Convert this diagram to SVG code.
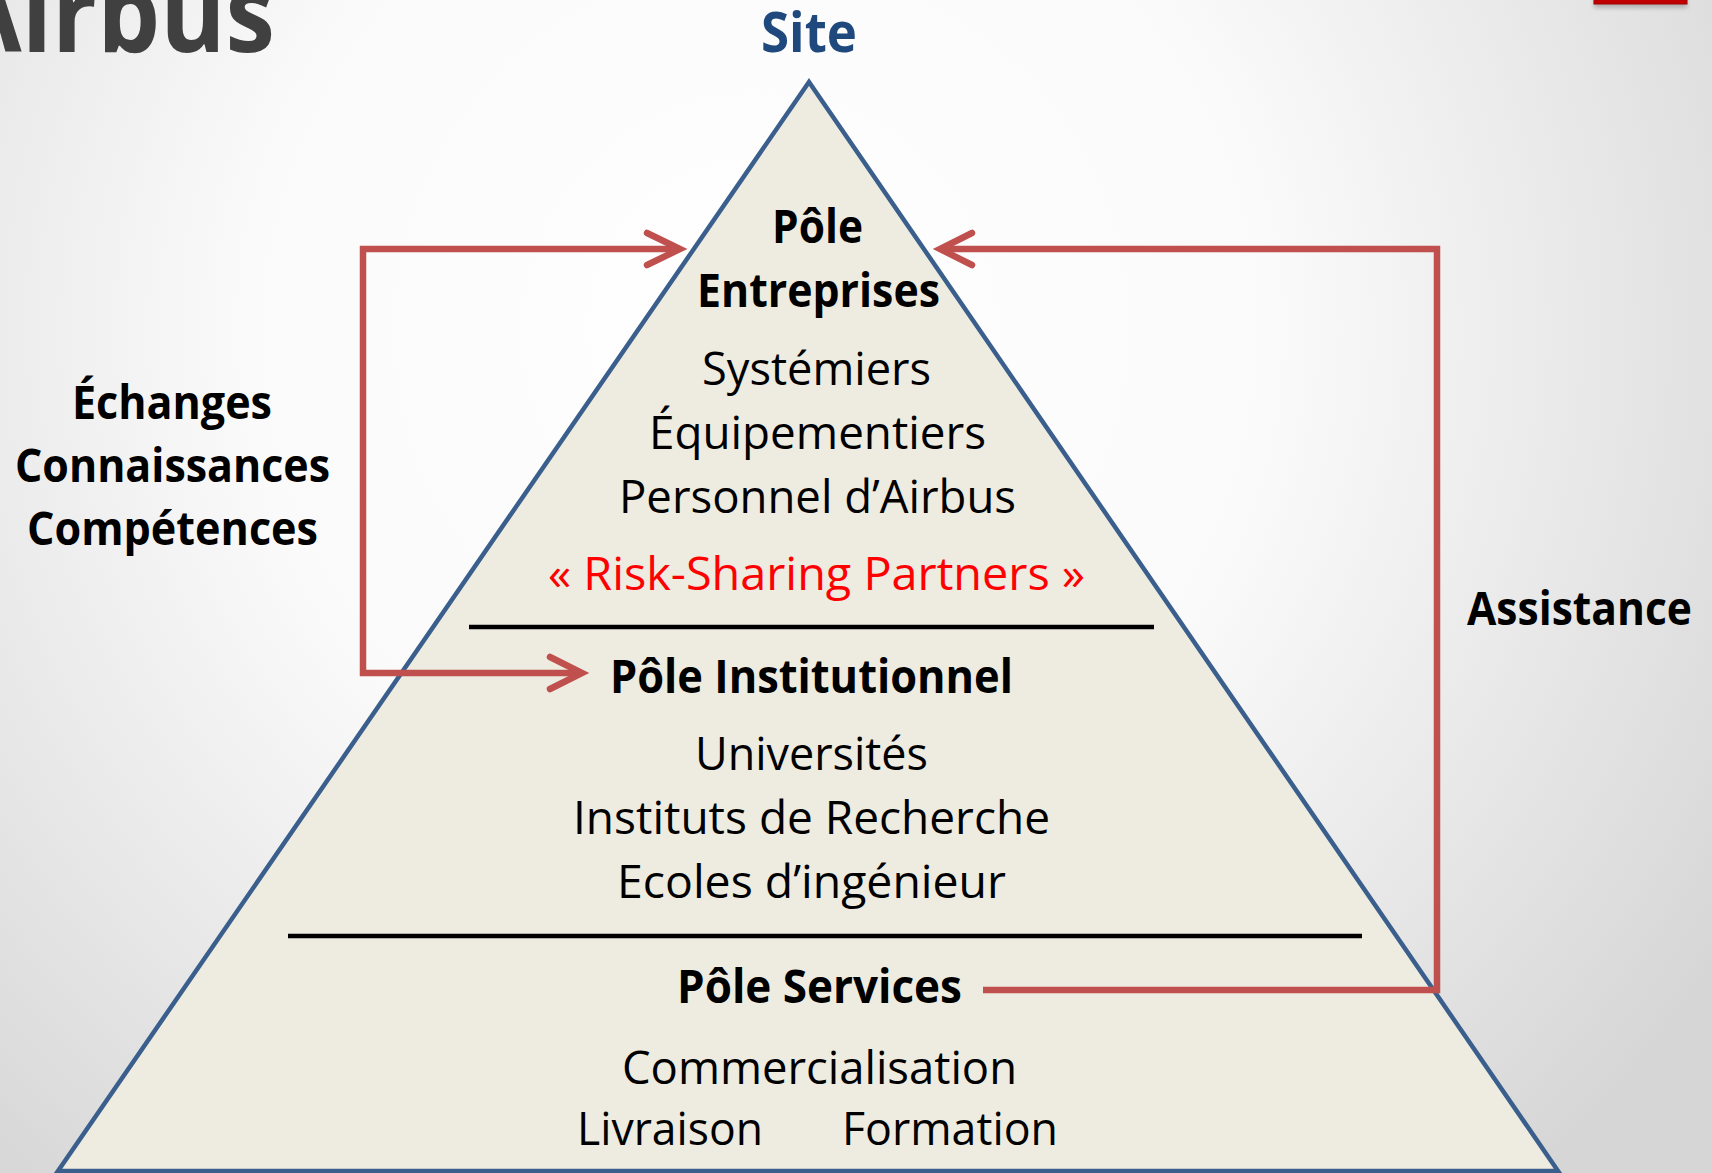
<svg xmlns="http://www.w3.org/2000/svg" width="1712" height="1173" viewBox="0 0 1712 1173">
  <defs>
    <radialGradient id="bg" gradientUnits="userSpaceOnUse" cx="760" cy="330" r="1150">
      <stop offset="0" stop-color="#ffffff"/>
      <stop offset="0.45" stop-color="#fafafa"/>
      <stop offset="1" stop-color="#d6d6d6"/>
    </radialGradient>
    <filter id="shadow" x="-20%" y="-50%" width="140%" height="300%">
      <feGaussianBlur stdDeviation="2"/>
    </filter>
  </defs>
  <style>
    text { font-family: "Open Sans", "Noto Sans", "Liberation Sans", sans-serif; fill: #000; }
    .b { font-weight: bold; font-size: 46px; }
    .r { font-size: 46px; }
    .mid { text-anchor: start; }
    .red { fill: #ff0000; }
    .conn { fill: none; stroke: #c0504d; stroke-width: 6.5; }
    .head { fill: none; stroke: #c0504d; stroke-width: 6.5; stroke-linecap: round; stroke-linejoin: miter; }
    .sep { stroke: #000; stroke-width: 4.5; }
  </style>

  <rect x="0" y="0" width="1712" height="1173" fill="url(#bg)"/>

  <!-- title (cut off) -->
  <text x="-47" y="52" font-size="110" font-weight="bold" style="fill:#404040" textLength="322" lengthAdjust="spacingAndGlyphs">Airbus</text>

  <!-- red tab top right -->
  <rect x="1594" y="-4" width="93" height="12" fill="#808080" opacity="0.5" filter="url(#shadow)"/>
  <rect x="1594" y="-6" width="93" height="10" fill="#c00000" stroke="#a00000" stroke-width="1"/>

  <!-- pyramid -->
  <g id="pyramid">
    <polygon points="809,82 1558,1171 58,1171" fill="#eeebe0" stroke="#3a5f8d" stroke-width="4.5" stroke-linejoin="miter"/>
    <line class="sep" x1="469" y1="627" x2="1154" y2="627"/>
    <line class="sep" x1="288" y1="936" x2="1362" y2="936"/>
  </g>

  <g id="site-label">
    <text x="761" y="52" font-size="56" font-weight="bold" style="fill:#1f497d" textLength="96" lengthAdjust="spacingAndGlyphs">Site</text>
  </g>

  <g id="pole-entreprises">
    <text class="b" x="772" y="243" textLength="91" lengthAdjust="spacingAndGlyphs">Pôle</text>
    <text class="b" x="697" y="307" textLength="243" lengthAdjust="spacingAndGlyphs">Entreprises</text>
    <text class="r" x="702" y="385" textLength="229" lengthAdjust="spacingAndGlyphs">Systémiers</text>
    <text class="r" x="649" y="449" textLength="337" lengthAdjust="spacingAndGlyphs">Équipementiers</text>
    <text class="r" x="619" y="513" textLength="397" lengthAdjust="spacingAndGlyphs">Personnel d’Airbus</text>
    <text class="r red" x="548" y="590" textLength="537" lengthAdjust="spacingAndGlyphs">« Risk-Sharing Partners »</text>
  </g>

  <g id="pole-institutionnel">
    <text class="b" x="610" y="693" textLength="403" lengthAdjust="spacingAndGlyphs">Pôle Institutionnel</text>
    <text class="r" x="695" y="770" textLength="233" lengthAdjust="spacingAndGlyphs">Universités</text>
    <text class="r" x="573" y="834" textLength="477" lengthAdjust="spacingAndGlyphs">Instituts de Recherche</text>
    <text class="r" x="617" y="898" textLength="389" lengthAdjust="spacingAndGlyphs">Ecoles d’ingénieur</text>
  </g>

  <g id="pole-services">
    <text class="b" x="677" y="1003" textLength="285" lengthAdjust="spacingAndGlyphs">Pôle Services</text>
    <text class="r" x="622" y="1084" textLength="395" lengthAdjust="spacingAndGlyphs">Commercialisation</text>
    <text class="r" x="577" y="1145" textLength="186" lengthAdjust="spacingAndGlyphs">Livraison</text>
    <text class="r" x="842" y="1145" textLength="216" lengthAdjust="spacingAndGlyphs">Formation</text>
  </g>

  <g id="label-echanges">
    <text class="b" x="72" y="419" textLength="200" lengthAdjust="spacingAndGlyphs">Échanges</text>
    <text class="b" x="15" y="482" textLength="315" lengthAdjust="spacingAndGlyphs">Connaissances</text>
    <text class="b" x="27" y="545" textLength="291" lengthAdjust="spacingAndGlyphs">Compétences</text>
  </g>

  <g id="label-assistance">
    <text class="b" x="1467" y="625" textLength="225" lengthAdjust="spacingAndGlyphs">Assistance</text>
  </g>

  <g id="connectors">
    <!-- left bracket: exchanges between entreprises and institutionnel -->
    <path class="conn" d="M 678 249 L 363 249 L 363 673 L 580 673"/>
    <path class="head" d="M 647 233 L 680 249 L 647 265"/>
    <path class="head" d="M 550 657 L 582 673 L 550 689"/>
    <!-- right bracket: assistance from services to entreprises -->
    <path class="conn" d="M 983 990 L 1437 990 L 1437 249 L 942 249"/>
    <path class="head" d="M 972 233 L 940 249 L 972 265"/>
  </g>
</svg>
